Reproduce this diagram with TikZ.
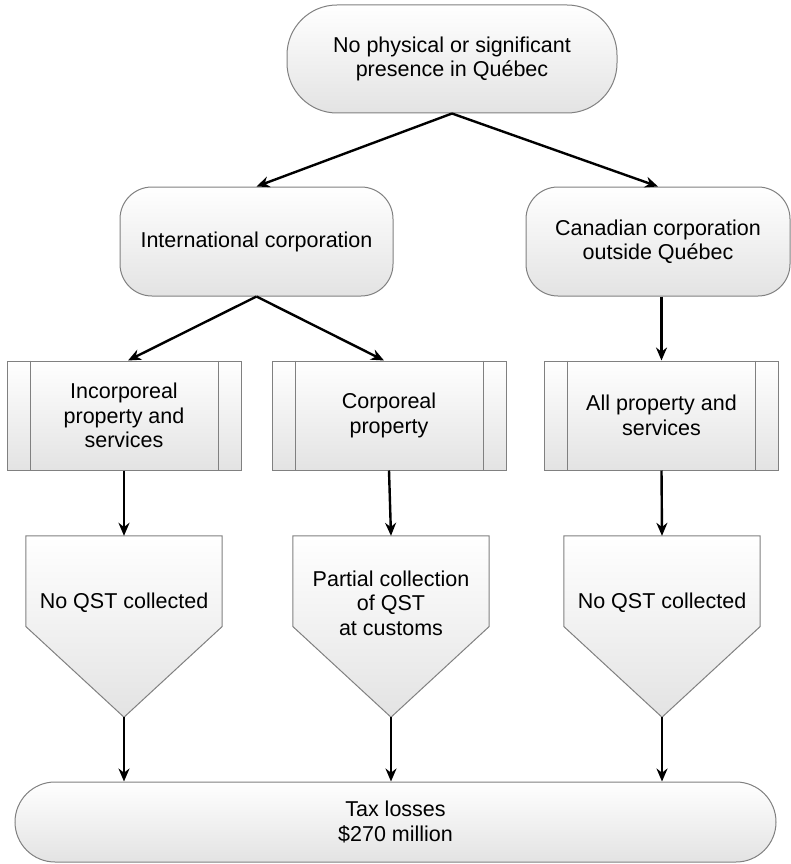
\documentclass[tikz,border=0pt]{standalone}
\usepackage{fontspec}
\setmainfont{Liberation Sans}
\usetikzlibrary{arrows.meta,calc}
\begin{document}
\begin{tikzpicture}[x=1pt,y=-1pt,
  shade/.style={draw=black!50, line width=1pt, top color=white, bottom color=black!11},
  txt/.style={align=center, font=\fontsize{21.5}{24.5}\selectfont, inner sep=0pt},
  term/.style={shade, txt, rectangle},
  proc/.style={shade, txt, rectangle, minimum width=234, minimum height=109},
  pent/.style={rectangle, minimum width=196, minimum height=181, inner sep=0pt},
  arr/.style={line width=2.4pt, -{Stealth[length=13pt,width=11pt]}}
]
\useasboundingbox (0,0) rectangle (791,864);

% terminators
\node[term, minimum width=330, minimum height=108, rounded corners=50] (top) at (452,59) {No physical or significant\\presence in Québec};
\node[term, minimum width=273, minimum height=109, rounded corners=32] (intl) at (256.5,241.5) {International corporation};
\node[term, minimum width=264, minimum height=109, rounded corners=32] (can) at (658,241.5) {Canadian corporation\\outside Québec};
\node[term, minimum width=761, minimum height=80, rounded corners=40] (bot) at (395.5,822) {Tax losses\\\$270 million};

% predefined processes
\node[proc] (inc) at (124,415.5) {Incorporeal\\property and\\services};
\node[proc] (corp) at (389,415.5) {Corporeal\\property};
\node[proc] (allp) at (661.5,415.5) {All property and\\services};
\foreach \n in {inc,corp,allp}{
  \draw[black!50, line width=1pt] ($(\n.north west)+(23.5,0)$) -- ($(\n.south west)+(23.5,0)$);
  \draw[black!50, line width=1pt] ($(\n.north east)+(-23.5,0)$) -- ($(\n.south east)+(-23.5,0)$);
}

% off-page connectors (pentagons)
\node[pent] (p1) at (124,626.5) {};
\node[pent] (p2) at (391,626.5) {};
\node[pent] (p3) at (662,626.5) {};
\foreach \n in {p1,p2,p3}{
  \path[shade] (\n.north west) -- (\n.north east) -- (\n.east) -- (\n.south) -- (\n.west) -- cycle;
}
\node[txt] (t1) at ($(p1.center)+(0,-23.5)$) {No QST collected};
\node[txt] (t2) at ($(p2.center)+(0,-23.5)$) {Partial collection\\of QST\\at customs};
\node[txt] (t3) at ($(p3.center)+(0,-23.5)$) {No QST collected};

% connectors
\draw[arr] (top.south) -- (intl.north);
\draw[arr] (top.south) -- (can.north);
\draw[arr] (intl.south) -- ($(inc.north)+(4,0)$);
\draw[arr] (intl.south) -- ($(corp.north)+(-5,0)$);
\draw[arr] (allp.north |- can.south) -- (allp.north);
\draw[arr] (inc.south) -- (p1.north);
\draw[arr] (corp.south) -- (p2.north);
\draw[arr] (allp.south) -- (p3.north);
\draw[arr] (p1.south) -- (p1.south |- bot.north);
\draw[arr] (p2.south) -- (p2.south |- bot.north);
\draw[arr] (p3.south) -- (p3.south |- bot.north);
\end{tikzpicture}
\end{document}
